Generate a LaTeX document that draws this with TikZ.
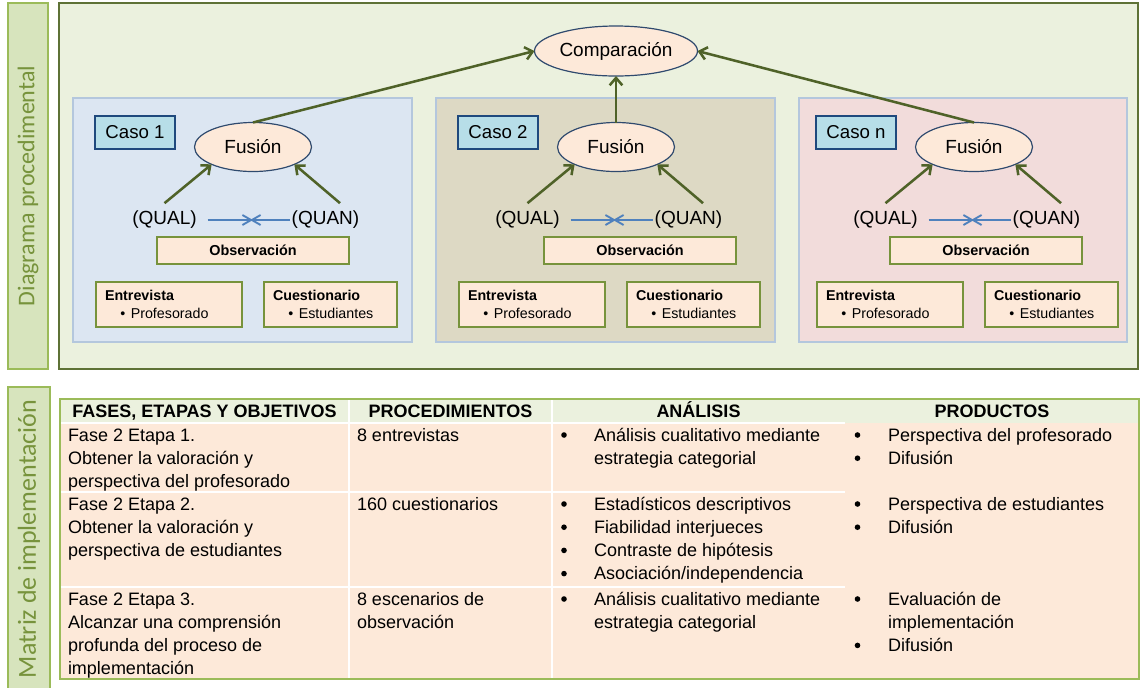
\documentclass[tikz,border=0pt]{standalone}
\usepackage{fontspec}
\setmainfont{Liberation Sans}
\newfontfamily\sidefont{Carlito}
\usetikzlibrary{arrows.meta,shapes.geometric,calc}

\definecolor{sidefill}{HTML}{D7E4BD}
\definecolor{sideline}{HTML}{9BBB59}
\definecolor{sidetext}{HTML}{77933C}
\definecolor{mainfill}{HTML}{EBF1DE}
\definecolor{mainline}{HTML}{5E7236}
\definecolor{caseAfill}{HTML}{DCE6F2}
\definecolor{caseBfill}{HTML}{DDD9C4}
\definecolor{caseNfill}{HTML}{F2DCDB}
\definecolor{caseline}{HTML}{B4C7DD}
\definecolor{labfill}{HTML}{B7DEE8}
\definecolor{labline}{HTML}{1F497D}
\definecolor{peach}{HTML}{FDE9D9}
\definecolor{ellline}{HTML}{2F4A6E}
\definecolor{boxline}{HTML}{77933C}
\definecolor{greenarr}{HTML}{4F6228}
\definecolor{bluearr}{HTML}{4F81BD}
\definecolor{tabline}{HTML}{9BBB59}
\definecolor{tabhead}{HTML}{EBF1DE}
\definecolor{tabbody}{HTML}{FDE9D9}

\tikzset{
  sideband/.style={draw=sideline, fill=sidefill, line width=1.5pt},
  sidelabel/.style={rotate=90, text=sidetext, font=\sidefont\fontsize{18pt}{20pt}\selectfont},
  mainbox/.style={draw=mainline, fill=mainfill, line width=1.1pt},
  casebox/.style={draw=caseline, line width=1.5pt},
  casolabel/.style={rectangle, draw=labline, fill=labfill, line width=0.9pt,
    minimum width=60pt, minimum height=24.75pt, font=\fontsize{14pt}{16pt}\selectfont},
  fusion/.style={ellipse, draw=ellline, fill=peach, line width=0.9pt,
    minimum width=87.75pt, minimum height=36.75pt, font=\fontsize{14.25pt}{17pt}\selectfont},
  mixtxt/.style={font=\fontsize{14.25pt}{17pt}\selectfont},
  greenarrow/.style={draw=greenarr, line width=1.9pt, -{Straight Barb[length=5.5pt,width=9.5pt]}},
  bluearrow/.style={draw=bluearr, line width=1.4pt, -{Straight Barb[length=6.5pt,width=7.5pt]}},
  obsbox/.style={rectangle, draw=boxline, fill=peach, line width=1.1pt,
    minimum width=144pt, minimum height=20.25pt, font=\bfseries\fontsize{10.8pt}{13pt}\selectfont},
  srcbox/.style={rectangle, draw=boxline, fill=peach, line width=1.1pt, align=left,
    minimum height=33.75pt, inner xsep=6.75pt, inner ysep=0pt,
    font=\fontsize{10.7pt}{13.5pt}\selectfont},
  tabtxt/.style={font=\fontsize{13.5pt}{17pt}\selectfont, anchor=base west},
  tabhd/.style={font=\bfseries\fontsize{13.5pt}{17pt}\selectfont, anchor=base},
  tabbul/.style={circle, fill=black, minimum size=4.2pt},
}

% one case panel: id, shift, left, right, fill, label, centre of the observation box
\newcommand\drawcase[7]{%
  \draw[casebox, fill=#5] (#3,98) rectangle (#4,342);
  \node[casolabel] (caso#1) at ({#2+135},132.5) {#6};
  \node[fusion] (fus#1) at ({#2+253},147) {Fusión};
  \node[mixtxt] (qual#1) at ({#2+164.5},220) {(QUAL)};
  \node[mixtxt] (quan#1) at ({#2+325.5},220) {(QUAN)};
  \coordinate (meet#1) at ({#2+251.5},220);
  \draw[bluearrow] ([xshift=8.25pt]qual#1.east) -- ([xshift=1.1pt]meet#1);
  \draw[bluearrow] ([xshift=-1.5pt]quan#1.west) -- ([xshift=-1.1pt]meet#1);
  \draw[greenarrow] ([yshift=6pt]qual#1.north) -- (fus#1.south west);
  \draw[greenarrow] ([shift={(14.5,-8)}]quan#1.north) -- (fus#1.south east);
  \node[obsbox] (obs#1) at (#7,250.5) {Observación};
  \node[srcbox, minimum width=109.5pt, text width=96pt] (ent#1) at ({#2+169},304.5)
    {\textbf{Entrevista}\\\hspace*{11.6pt}\textbullet\hspace{4pt}Profesorado};
  \node[srcbox, minimum width=99.75pt, text width=86.25pt] (cue#1) at ({#2+330.5},304.5)
    {\textbf{Cuestionario}\\\hspace*{11.6pt}\textbullet\hspace{4pt}Estudiantes};
}

% lines of a table cell, one node per line
\newcommand\celltext[4]{%
  \foreach \ln [count=\k] in {#4} {
    \node[tabtxt] (#1-\k) at (#2,{#3+23.2*(\k-1)}) {\ln};
  }%
}
% a list bullet on the line whose baseline is #3
\newcommand\tabbullet[3]{\node[tabbul] (#1) at (#2,{#3-6}) {};}

\begin{document}
\begin{tikzpicture}[x=0.75pt, y=-0.75pt, every node/.style={inner sep=0pt, outer sep=0pt}]
\useasboundingbox (0,0) rectangle (1143,687);
\clip (0,0) rectangle (1143,687);
\fill[white] (0,0) rectangle (1143,687);

% ---------- procedure diagram ----------
\draw[sideband] (8,3) rectangle (48,369);
\node[sidelabel] (lab1) at (28,186) {Diagrama procedimental};
\draw[mainbox] (59,3) rectangle (1138,369);

\node[fusion, minimum width=122.25pt, minimum height=37.5pt] (comp) at (616,51) {Comparación};

\drawcase{a}{0}{73}{412}{caseAfill}{Caso 1}{253}
\drawcase{b}{363}{436}{775}{caseBfill}{Caso 2}{640}
\drawcase{c}{721}{799}{1127}{caseNfill}{Caso n}{986}

\draw[greenarrow] (fusa.north) -- (comp.west);
\draw[greenarrow] (fusb.north) -- (comp.south);
\draw[greenarrow] (fusc.north) -- (comp.east);

% ---------- implementation matrix ----------
\draw[sideband] (8,387) rectangle (50,700);
\node[sidelabel, font=\sidefont\fontsize{19.5pt}{22pt}\selectfont] (lab2) at (29,539) {Matriz de implementación};

\fill[tabbody] (60,423) rectangle (1139,679);
\fill[tabhead] (60,399) rectangle (1139,423);
\draw[white, line width=1.5pt]
  (60,423) -- (845,423) (60,492) -- (845,492) (60,587) -- (845,587)
  (349,399) -- (349,679) (552,399) -- (552,679);
\draw[tabline, line width=1.8pt] (60,399) rectangle (1139,679);

\node[tabhd] (h1) at (204.5,417) {FASES, ETAPAS Y OBJETIVOS};
\node[tabhd] (h2) at (450.5,417) {PROCEDIMIENTOS};
\node[tabhd] (h3) at (698.5,417) {ANÁLISIS};
\node[tabhd] (h4) at (992,417) {PRODUCTOS};

% row 1
\celltext{r1c1}{68}{441}{Fase 2 Etapa 1., Obtener la valoración y, perspectiva del profesorado}
\celltext{r1c2}{357}{441}{8 entrevistas}
\tabbullet{r1b1}{564}{441}
\celltext{r1c3}{594}{441}{Análisis cualitativo mediante, estrategia categorial}
\tabbullet{r1p1}{857.5}{441}
\tabbullet{r1p2}{857.5}{464.2}
\celltext{r1c4}{888}{441}{Perspectiva del profesorado, Difusión}

% row 2
\celltext{r2c1}{68}{510}{Fase 2 Etapa 2., Obtener la valoración y, perspectiva de estudiantes}
\celltext{r2c2}{357}{510}{160 cuestionarios}
\tabbullet{r2b1}{564}{510}
\tabbullet{r2b2}{564}{533.2}
\tabbullet{r2b3}{564}{556.4}
\tabbullet{r2b4}{564}{579.6}
\celltext{r2c3}{594}{510}{Estadísticos descriptivos, Fiabilidad interjueces, Contraste de hipótesis, Asociación/independencia}
\tabbullet{r2p1}{857.5}{510}
\tabbullet{r2p2}{857.5}{533.2}
\celltext{r2c4}{888}{510}{Perspectiva de estudiantes, Difusión}

% row 3
\celltext{r3c1}{68}{605}{Fase 2 Etapa 3., Alcanzar una comprensión, profunda del proceso de, implementación}
\celltext{r3c2}{357}{605}{8 escenarios de, observación}
\tabbullet{r3b1}{564}{605}
\celltext{r3c3}{594}{605}{Análisis cualitativo mediante, estrategia categorial}
\tabbullet{r3p1}{857.5}{605}
\tabbullet{r3p2}{857.5}{651.4}
\celltext{r3c4}{888}{605}{Evaluación de, implementación, Difusión}
\end{tikzpicture}
\end{document}
